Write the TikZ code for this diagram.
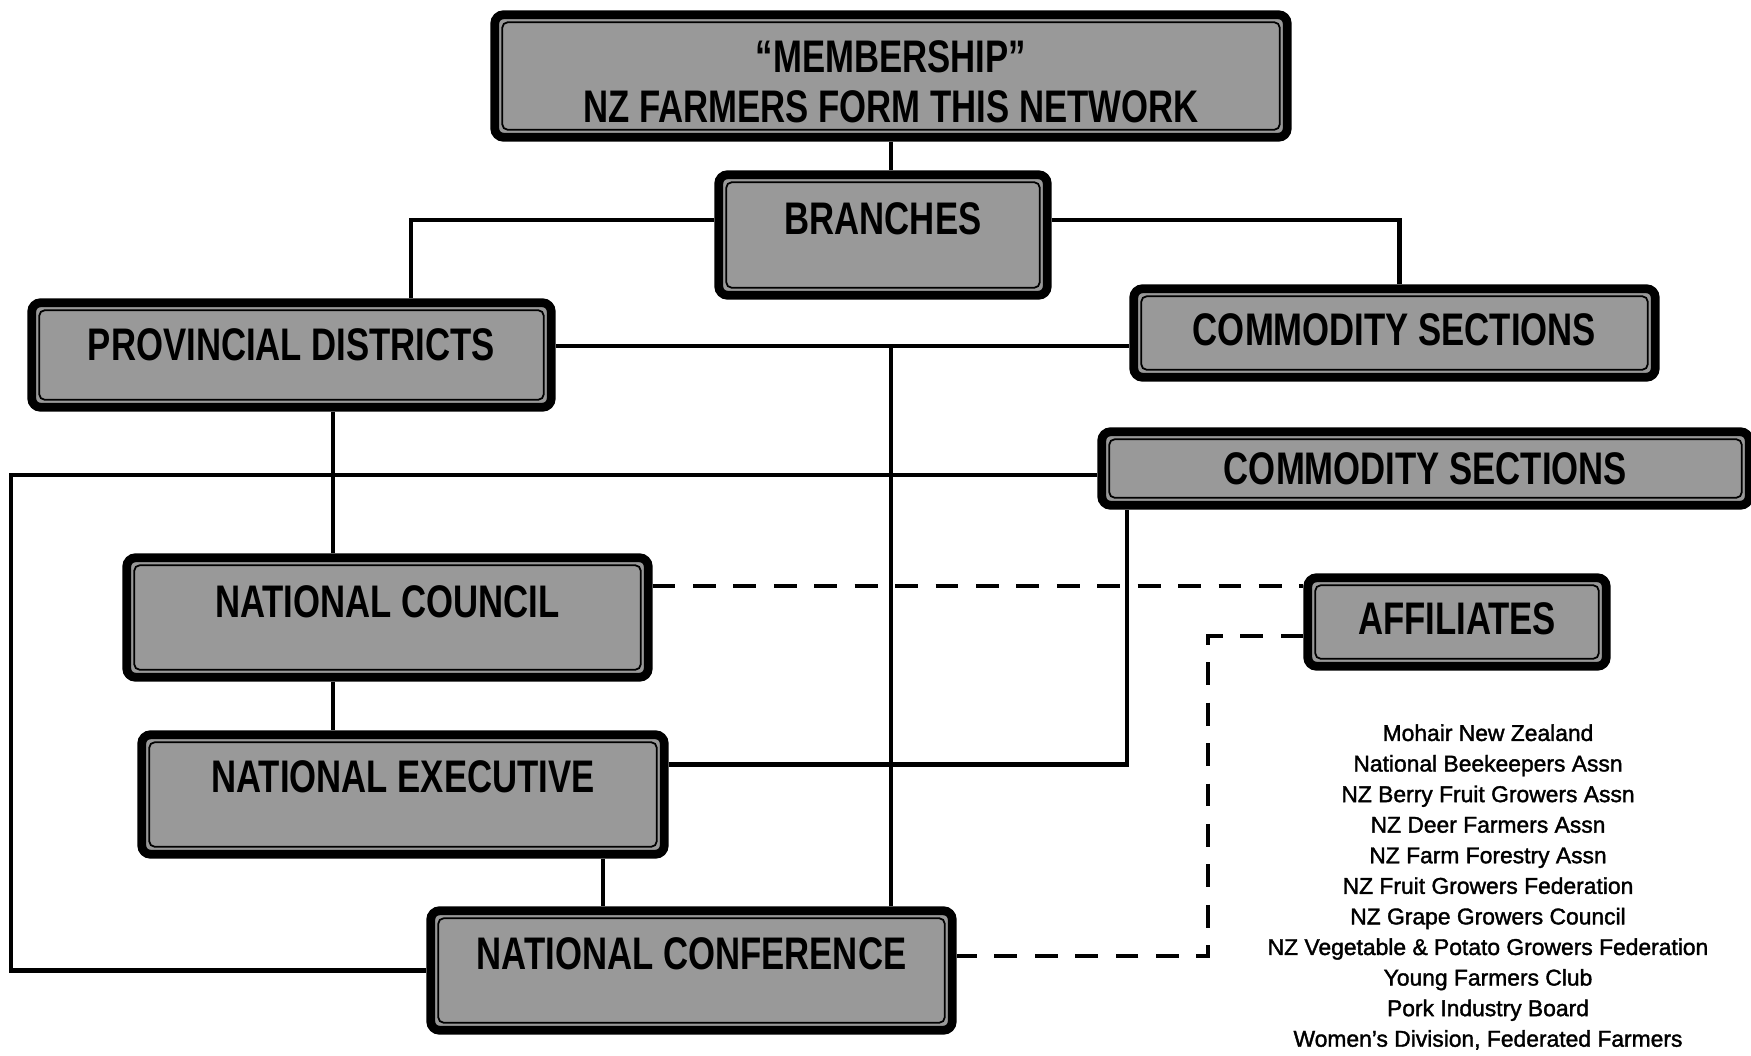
\documentclass[tikz,border=0pt]{standalone}
\usepackage{fontspec}
\setmainfont{Liberation Sans}
\newfontfamily\listfont{Liberation Sans}[FakeBold=1.6]
\newfontfamily\boxfont{Liberation Sans}[FakeStretch=0.76]

\definecolor{boxgray}{gray}{0.6}

\tikzset{
    unit/.style={draw=black, line width=5pt, fill=boxgray, rounded corners=5pt,
        inner sep=0pt, font=\boxfont\bfseries\fontsize{26}{28.5}\selectfont},
    lift/.style={text height=18.6pt, text depth=#1},
    rim/.style={line width=1pt, rounded corners=3pt},
    link/.style={line width=2.4pt},
    loose/.style={link, dash pattern=on 13pt off 10pt},
}

\begin{document}
\begin{tikzpicture}
    \useasboundingbox (0,0) rectangle (35.02,-21.10);

    % boxes
    \node[unit, align=center, minimum width=15.85cm, minimum height=2.45cm] (member) at (17.82,-1.52)
        {\rule{0pt}{25pt}“MEMBERSHIP”\\NZ FARMERS FORM THIS NETWORK};
    \node[unit, lift=6.8mm, minimum width=6.57cm, minimum height=2.41cm] (branches) at (17.66,-4.70) {BRANCHES};
    \node[unit, lift=4.4mm, minimum width=10.39cm, minimum height=2.09cm] (prov) at (5.83,-7.10) {PROVINCIAL DISTRICTS};
    \node[unit, lift=1.6mm, minimum width=10.43cm, minimum height=1.77cm] (comm1) at (27.89,-6.66) {COMMODITY SECTIONS};
    \node[unit, lift=0mm, minimum width=12.95cm, minimum height=1.47cm] (comm2) at (28.51,-9.37) {COMMODITY SECTIONS};
    \node[unit, lift=6.4mm, minimum width=10.43cm, minimum height=2.39cm] (council) at (7.75,-12.35) {NATIONAL COUNCIL};
    \node[unit, lift=1.6mm, minimum width=5.97cm, minimum height=1.77cm] (aff) at (29.14,-12.44) {AFFILIATES};
    \node[unit, lift=7.2mm, minimum width=10.45cm, minimum height=2.39cm] (exec) at (8.06,-15.89) {NATIONAL EXECUTIVE};
    \node[unit, lift=6.8mm, minimum width=10.43cm, minimum height=2.39cm] (conf) at (13.83,-19.41) {NATIONAL CONFERENCE};

    % inner frame line of each box
    \foreach \n in {member,branches,prov,comm1,comm2,council,aff,exec,conf}
        \draw[rim] ([shift={(6.8pt,-6.8pt)}]\n.north west) rectangle ([shift={(-6.8pt,6.8pt)}]\n.south east);

    \node[align=center, font=\listfont\fontsize{13}{17.4}\selectfont] (members) at (29.76,-17.74)
        {Mohair New Zealand\\
         National Beekeepers Assn\\
         NZ Berry Fruit Growers Assn\\
         NZ Deer Farmers Assn\\
         NZ Farm Forestry Assn\\
         NZ Fruit Growers Federation\\
         NZ Grape Growers Council\\
         NZ Vegetable \& Potato Growers Federation\\
         Young Farmers Club\\
         Pork Industry Board\\
         Women’s Division, Federated Farmers};

    % solid links
    \coordinate (pe) at ([yshift=1.8mm]prov.east);
    \coordinate (ps) at ([xshift=0.83cm]prov.south);
    \coordinate (es) at ([xshift=4cm]exec.south);
    \coordinate (cw) at ([yshift=-1.3mm]comm2.west);
    \coordinate (edge) at (0.22,0);
    \draw[link] (member.south) -- (member.south |- branches.north);
    \draw[link] ([yshift=3mm]branches.west) -| ([xshift=2.39cm]prov.north);
    \draw[link] ([yshift=3mm]branches.east) -| ([xshift=1mm]comm1.north);
    \draw[link] (pe) -- (pe -| comm1.west);
    \draw[link] (pe -| member.south) -- (member.south |- conf.north);
    \draw[link] (ps) -- (ps |- council.north);
    \draw[link] (ps |- council.south) -- (ps |- exec.north);
    \draw[link] (es) -- (es |- conf.north);
    \draw[link] (cw) -- (cw -| edge) |- (conf.west);
    \draw[link] ([yshift=6mm]exec.east) -| ([xshift=6mm]comm2.south west);

    % dashed links to affiliates
    \coordinate (ce) at ([yshift=6.3mm]council.east);
    \draw[loose] (ce) -- (ce -| aff.west);
    \draw[loose] ([yshift=-2.8mm]aff.west) -- ++(-1.9cm,0) |- ([yshift=2.9mm]conf.east);
\end{tikzpicture}
\end{document}
